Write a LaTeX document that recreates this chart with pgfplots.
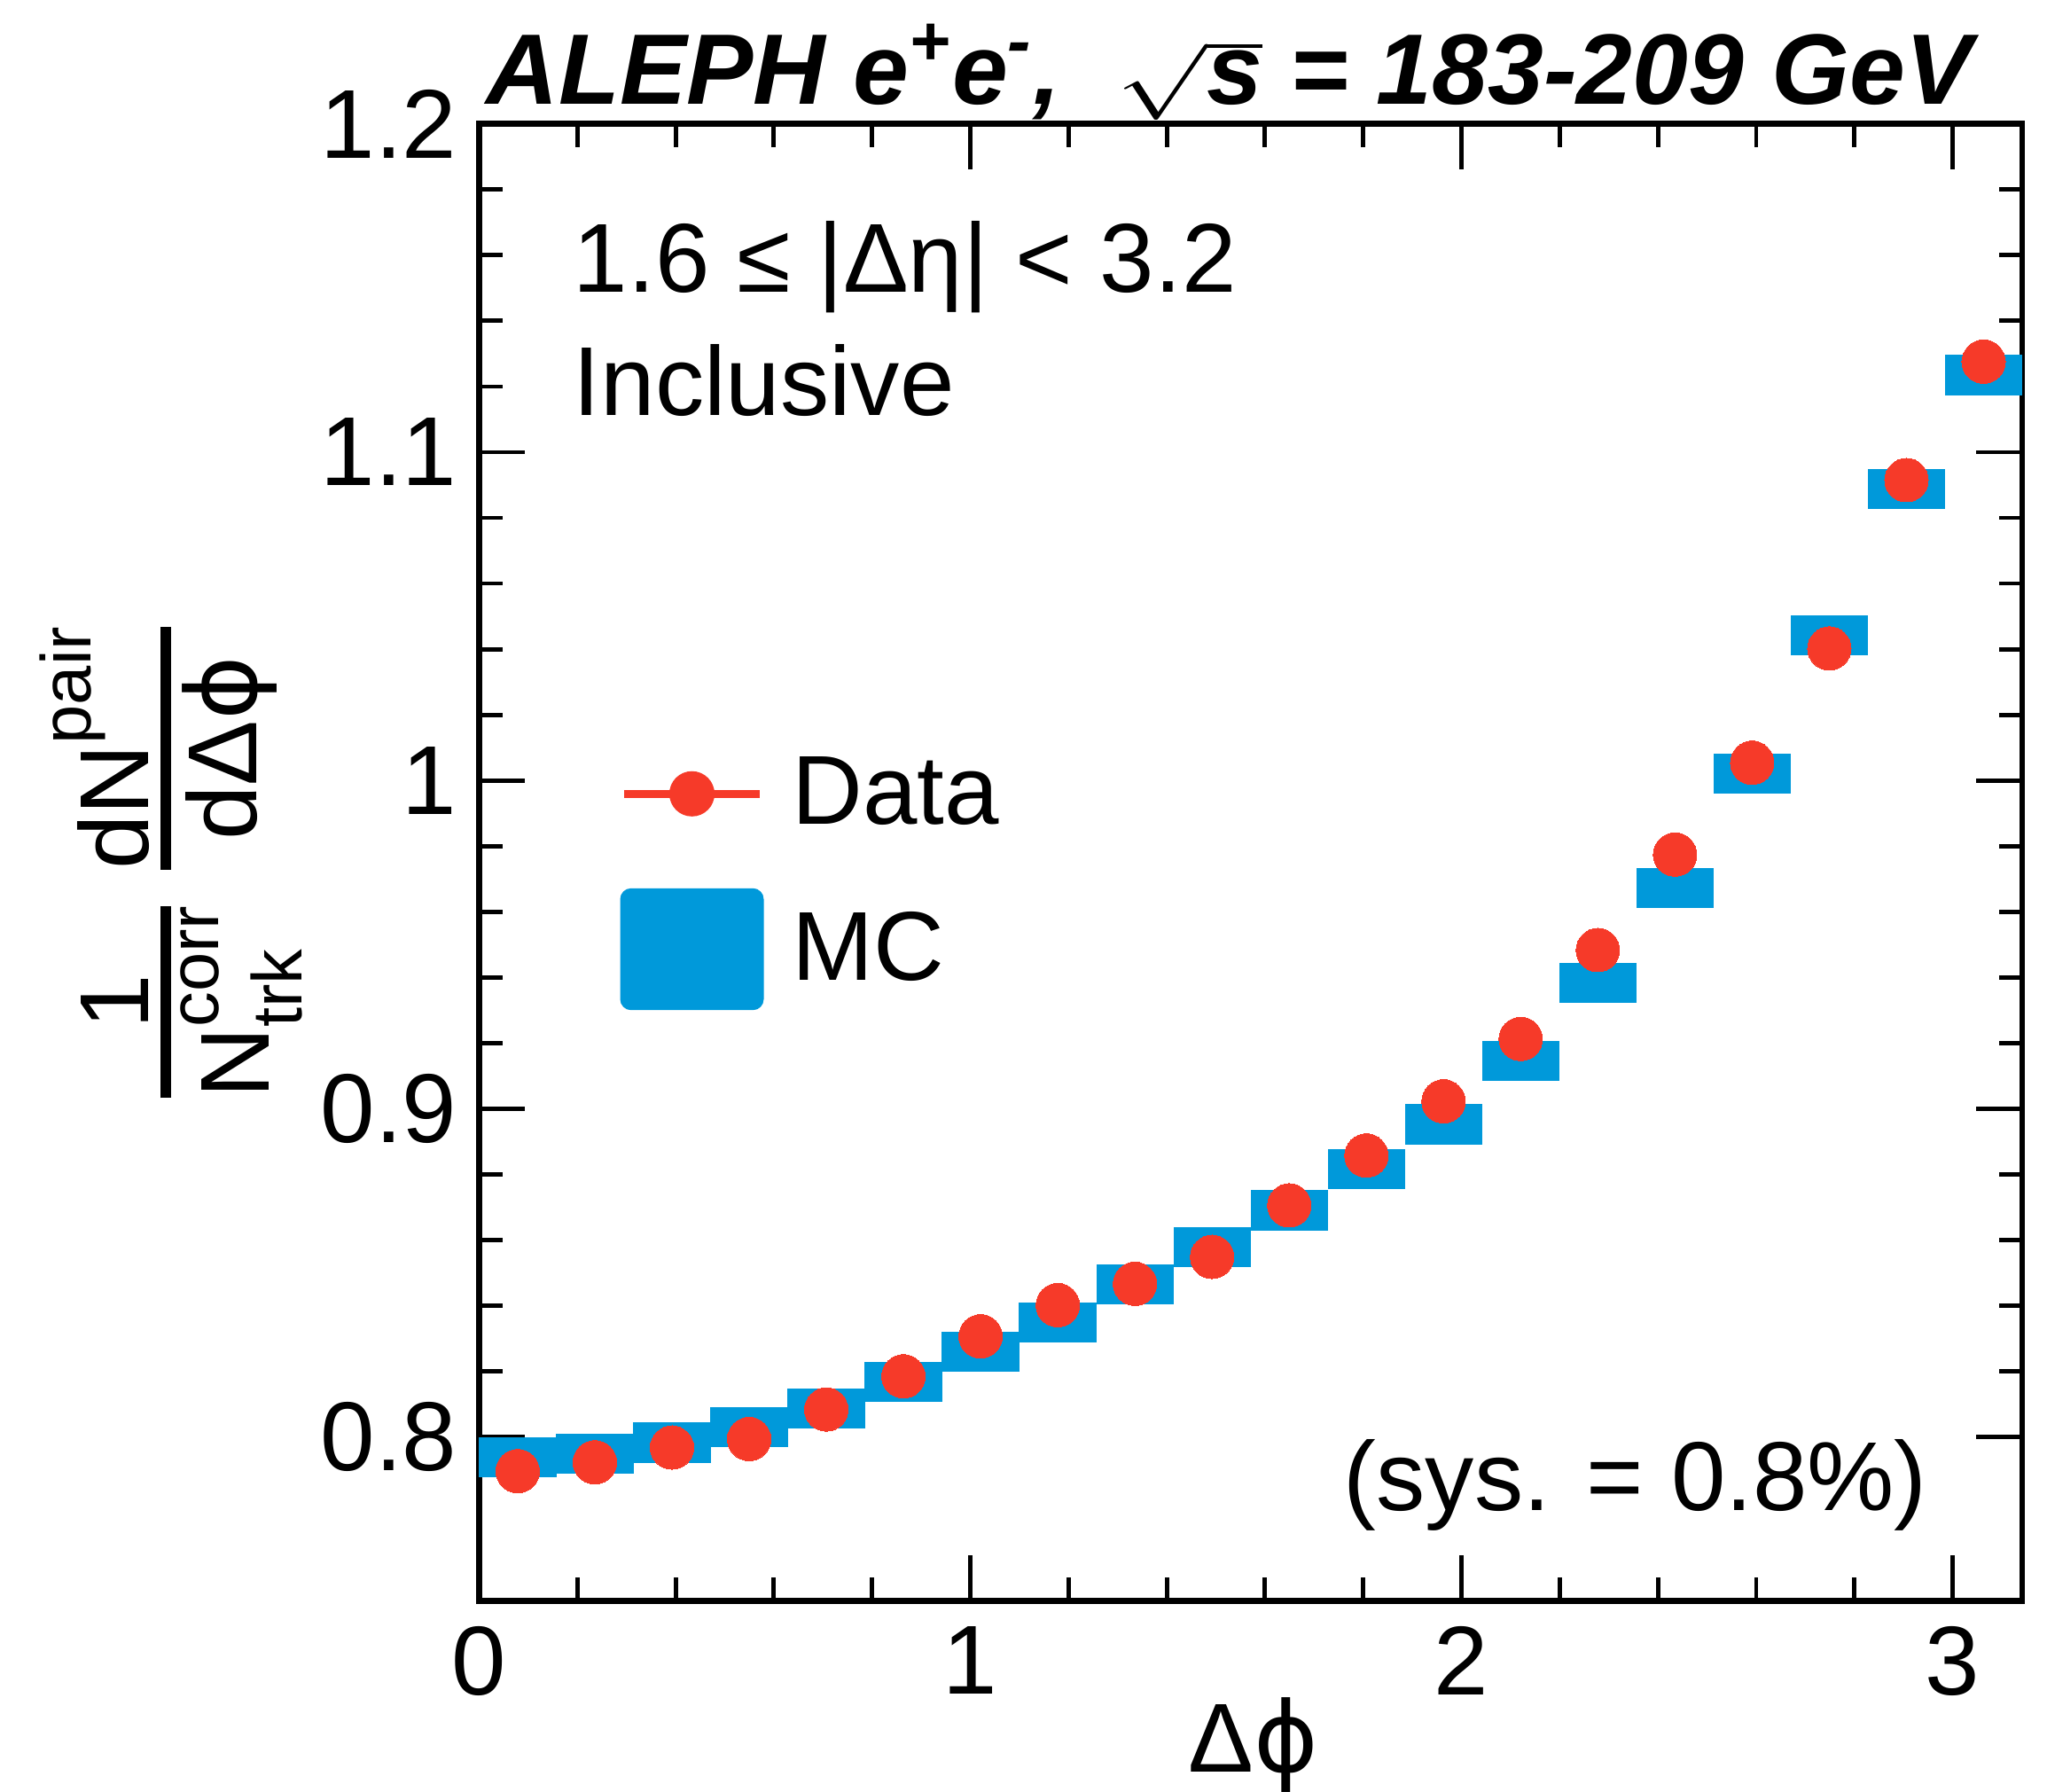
\documentclass[border=0pt]{standalone}
\usepackage{amsmath}
\usepackage{graphicx}
\usepackage{fontspec}
\setmainfont{Liberation Sans}
\newfontfamily\dejavu{DejaVu Sans}
\usepackage{pgfplots}
\usepackage{pgfplotstable}
\pgfplotsset{compat=1.18}
\definecolor{datared}{RGB}{246,58,41}
\definecolor{mcblue}{RGB}{0,153,218}
\pgfdeclareplotmark{mcbox}{\pgfpathrectangle{\pgfpoint{-8.9pt}{-4.6pt}}{\pgfpoint{17.8pt}{9.2pt}}\pgfusepathqfill}
\newcommand\sssize{\fontsize{16.2}{18}\selectfont}
\newcommand\Ncorr{N\rlap{\raisebox{-7.5pt}{\sssize trk}}\raisebox{11.5pt}{\sssize corr}}
\newcommand\dNpair{dN\raisebox{13.2pt}{\sssize pair}}
\newcommand\ylab{\vbox{\offinterlineskip\halign{\hfil##\hfil&\hskip8.4pt\hfil##\hfil\cr
1&\dNpair\cr
\noalign{\kern2.55pt}
\leaders\hrule height1.2pt depth1.2pt\hfill&\leaders\hrule height1.2pt depth1.2pt\hfill\cr
\noalign{\kern2.3pt}
\Ncorr&\raisebox{2.7pt}{dΔ{\dejavu ϕ}}\cr}}}
\newcommand\sqrts{\rlap{\scalebox{1}[0.70]{$\sqrt{\phantom{\text{s}}}$}}$\hphantom{\sqrt{\text{s}}}$\llap{s}}
\pgfplotstableread{
x data mc
0.07854 0.7895 0.7937
0.23562 0.7922 0.7949
0.39270 0.7967 0.7982
0.54978 0.7993 0.8029
0.70686 0.8083 0.8086
0.86394 0.8184 0.8166
1.02102 0.8306 0.8258
1.17810 0.8401 0.8349
1.33518 0.8466 0.8464
1.49226 0.8548 0.8577
1.64934 0.8705 0.8690
1.80642 0.8857 0.8816
1.96350 0.9022 0.8952
2.12058 0.9212 0.9146
2.27765 0.9483 0.9383
2.43473 0.9774 0.9671
2.59181 1.0054 1.0021
2.74889 1.0402 1.0443
2.90597 1.0915 1.0888
3.06305 1.1276 1.1235
}\tbl
\begin{document}
\begin{tikzpicture}
\begin{axis}[
name=ax,
width=354.6pt, height=339.3pt, scale only axis,
xmin=0, xmax=3.14159265, ymin=0.75, ymax=1.2,
xtick={0,1,2,3}, ytick={0.8,0.9,1,1.1,1.2},
minor x tick num=4, minor y tick num=4,
tick align=inside, tick pos=both,
major tick length=10.5pt, minor tick length=5.4pt,
every tick/.style={black, line width=1pt},
axis line style={line width=1.4pt},
tick label style={font=\fontsize{22.5}{27}\selectfont},
/pgf/number format/assume math mode=true,
yticklabel style={anchor=east, inner sep=0pt, xshift=-4.9pt},
xticklabel style={anchor=north, inner sep=0pt, yshift=-5.7pt},
label style={font=\fontsize{22.5}{27}\selectfont},
ylabel={\ylab},
ylabel style={at={(axis description cs:-0.1142,0.5)}, anchor=south, inner sep=0pt},
xlabel={Δ{\dejavu ϕ}},
xlabel style={at={(axis description cs:0.502,0)}, anchor=base, yshift=-39.3pt, inner sep=0pt},
legend style={at={(axis description cs:0.0914,0.5877)}, anchor=north west, draw=none, fill=none,
  inner sep=0pt, outer sep=0pt, row sep=7.7pt, column sep=6.5pt,
  nodes={inner sep=0pt}, font=\fontsize{22.5}{27}\selectfont},
legend cell align=left,
]
\addplot[only marks, mark=mcbox, color=mcblue, mark options={fill=mcblue, draw=none}, forget plot] table[x=x, y=mc] {\tbl};
\addplot[only marks, color=datared, mark=*, mark size=5pt, mark options={fill=datared, draw=datared, line width=0pt},
  legend image code/.code={\path[draw=none, fill=none] (0pt,-14pt) rectangle (33pt,14pt);
  \draw[datared, line width=1.8pt] (1pt,0pt) -- (32pt,0pt);
  \fill[datared] (16.5pt,0pt) circle (5pt);}] table[x=x, y=data] {\tbl};
\addlegendentry{Data}
\addlegendimage{legend image code/.code={\path[draw=none, fill=none] (0pt,-14pt) rectangle (33pt,14pt);
  \fill[mcblue, draw=none, rounded corners=2.5pt] (0pt,-14pt) rectangle (33pt,14pt);}}
\addlegendentry{MC}
\end{axis}
\node[anchor=base west, inner sep=0pt, font=\fontsize{22.5}{27}\selectfont, xshift=21.5pt, yshift=-38.7pt] at (ax.north west) {1.6 ≤ |Δη| < 3.2};
\node[anchor=base west, inner sep=0pt, font=\fontsize{22.5}{27}\selectfont, xshift=21.5pt, yshift=-66.9pt] at (ax.north west) {Inclusive};
\node[anchor=base east, inner sep=0pt, font=\fontsize{22.5}{27}\selectfont, xshift=-21.7pt, yshift=20.7pt] at (ax.south east) {(sys. = 0.8\%)};
\node[anchor=base west, inner sep=0pt, font=\fontsize{23}{28}\selectfont\bfseries\itshape, xshift=1.5pt, yshift=4.5pt] at (ax.north west) {ALEPH e\textsuperscript{+}e\textsuperscript{-},\ \ \sqrts\ = 183-209 GeV};
\pgfresetboundingbox
\path[use as bounding box] ([xshift=-110.1pt,yshift=-43.8pt]ax.south west) rectangle ([xshift=5.7pt,yshift=28.5pt]ax.north east);
\end{tikzpicture}
\end{document}
